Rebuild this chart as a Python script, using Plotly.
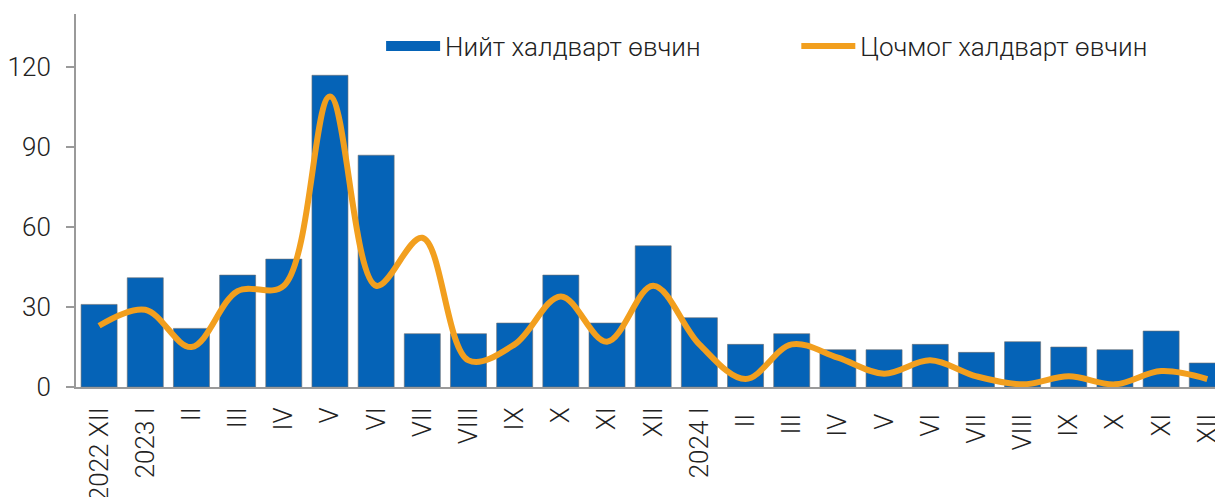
import plotly.graph_objects as go

months = ["2022 XII", "2023 I", "II", "III", "IV", "V", "VI", "VII", "VIII", "IX", "X", "XI", "XII",
          "2024 I", "II ", "III ", "IV ", "V ", "VI ", "VII ", "VIII ", "IX ", "X ", "XI ", "XII "]
total_cases = [31, 41, 22, 42, 48, 117, 87, 20, 20, 24, 42, 24, 53,
               26, 16, 20, 14, 14, 16, 13, 17, 15, 14, 21, 9]
acute_cases = [23, 29, 15, 36, 38, 109, 38, 56, 10, 16, 34, 17, 38,
               16, 3, 16, 11, 5, 10, 4, 1, 4, 1, 6, 3]

font_family = "Roboto"
text_color = "#222222"
bar_color = "#0563B7"
line_color = "#F29F1E"

fig = go.Figure()

fig.add_trace(go.Bar(
    x=months,
    y=total_cases,
    name="Нийт халдварт өвчин",
    marker=dict(color=bar_color, line=dict(color="rgba(110,110,110,0.6)", width=1)),
    showlegend=False,
))

# legend entry for the bars: a wide flat key like the original
fig.add_trace(go.Scatter(
    x=[None], y=[None],
    name="Нийт халдварт өвчин",
    mode="lines",
    line=dict(color=bar_color, width=15),
    legend="legend",
    showlegend=True,
    hoverinfo="skip",
))

fig.add_trace(go.Scatter(
    x=months,
    y=acute_cases,
    name="Цочмог халдварт өвчин",
    mode="lines",
    line=dict(color=line_color, width=6, shape="spline", smoothing=1),
    legend="legend2",
    showlegend=True,
))

# the page adds an 8px body margin, so margins are shifted to compensate
fig.update_layout(
    width=1223,
    height=497,
    margin=dict(l=68, r=8, t=6, b=118),
    plot_bgcolor="white",
    paper_bgcolor="white",
    showlegend=True,
    bargap=0.22,
    font=dict(family=font_family, size=26, color=text_color, weight=300),
    legend=dict(orientation="h", x=0.266, y=0.914, xanchor="left", yanchor="middle",
                itemwidth=54, font=dict(size=26), bgcolor="rgba(0,0,0,0)"),
    legend2=dict(orientation="h", x=0.628, y=0.914, xanchor="left", yanchor="middle",
                 itemwidth=54, font=dict(size=26), bgcolor="rgba(0,0,0,0)"),
)

fig.update_xaxes(
    range=[-0.5, 24.34],
    tickangle=-90,
    showline=True,
    linecolor="#9a9a9a",
    linewidth=2,
    ticks="",
    showgrid=False,
    automargin=False,
    ticklabelstandoff=8,
    tickfont=dict(size=26, color=text_color),
)

fig.update_yaxes(
    range=[0, 140],
    tickvals=[0, 30, 60, 90, 120],
    showline=True,
    linecolor="#9a9a9a",
    linewidth=2,
    ticks="outside",
    ticklen=8,
    tickcolor="#9a9a9a",
    tickwidth=2,
    showgrid=False,
    zeroline=False,
    automargin=False,
    ticklabelstandoff=10,
    tickfont=dict(size=26, color=text_color),
)

fig.write_html("out.html")
